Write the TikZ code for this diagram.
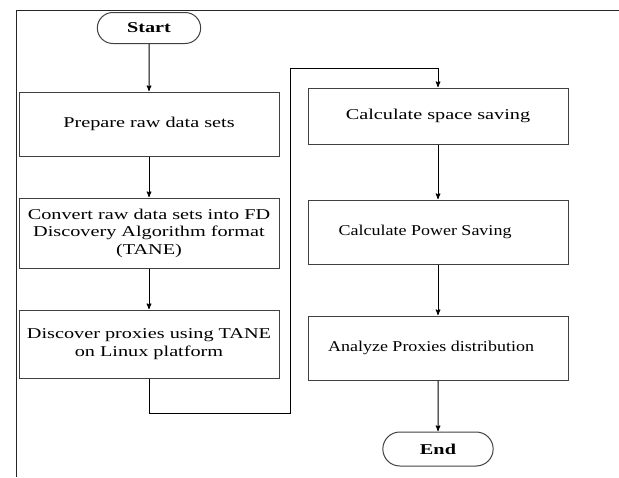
\documentclass[tikz,border=0pt]{standalone}
\usepackage{fontspec}
\setmainfont[FakeStretch=1.35]{Liberation Serif}
\newfontfamily\calcfont[FakeStretch=1.2]{Liberation Serif}
\usetikzlibrary{arrows,shapes.misc}

\begin{document}
\begin{tikzpicture}[->,>=stealth',shorten >=0.5pt,x=1pt,y=-1pt,node distance=112pt,
  line width=1pt,
  step node/.style={rectangle,draw=black!75,minimum width=260pt,minimum height=64pt,
    align=center,font=\fontsize{15}{17.5}\selectfont},
  term node/.style={rounded rectangle,draw=black!75,minimum width=110pt,minimum height=31pt,
    font=\fontsize{15}{17.5}\selectfont\bfseries}]

  \useasboundingbox (0,0) rectangle (619,477);
  \draw[-,black!85] (16,477) -- (16,10) -- (619,10);

  \node[term node] (start) at (149,28) {Start};
  \node[step node] (prepare) [below of=start, node distance=96pt] {Prepare raw data sets};
  \node[step node, minimum height=70pt] (convert) [below of=prepare, node distance=109pt]
    {Convert raw data sets into FD\\Discovery Algorithm format\\(TANE)};
  \node[step node, minimum height=68pt] (discover) [below of=convert, node distance=111pt]
    {Discover proxies using TANE\\on Linux platform};

  \node[step node, minimum height=56pt] (space) at (438,116) {Calculate space saving};
  \node[step node] (power) [below of=space, node distance=116pt]
    {\calcfont\hspace*{-26pt}Calculate Power Saving};
  \node[step node] (analyze) [below of=power, node distance=116pt]
    {\calcfont\hspace*{-14pt}Analyze Proxies distribution};
  \node[term node, minimum width=117pt, minimum height=34pt] (end) [below of=analyze, node distance=101pt] {End};

  \coordinate (low) at (290,413);
  \coordinate (high) at (290,68);

  \path
  (start) edge (prepare)
  (prepare) edge (convert)
  (convert) edge (discover)
  (space) edge (power)
  (power) edge (analyze)
  (analyze) edge (end);
  \draw (discover.south) |- (low) -- (high) -| (space.north);
\end{tikzpicture}
\end{document}
